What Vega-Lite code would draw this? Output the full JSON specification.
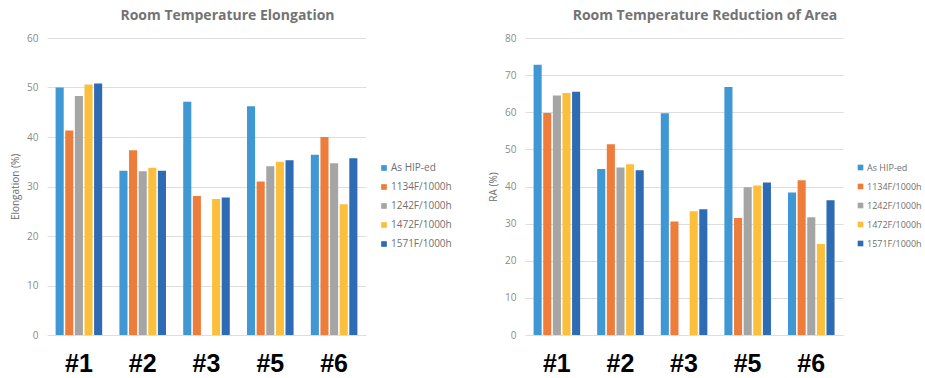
{
  "$schema": "https://vega.github.io/schema/vega-lite/v6.json",
  "padding": {"left": 10, "top": 9, "right": 0, "bottom": 0},
  "background": "white",
  "config": {
    "view": {"stroke": null},
    "font": "Open Sans",
    "title": {"fontSize": 14, "fontWeight": "bold", "color": "#737373", "offset": 10, "anchor": "middle", "dx": 21},
    "axisY": {
      "grid": true, "gridColor": "#dedede", "gridWidth": 1,
      "domain": false, "ticks": false,
      "labelColor": "#8a8a8a", "labelFontSize": 10, "labelPadding": 9,
      "titleColor": "#6b6b6b", "titleFontSize": 10, "titleFontWeight": "normal", "titlePadding": 6
    },
    "axisX": {
      "domain": false, "ticks": false, "grid": false,
      "labelAngle": 0, "labelFont": "Liberation Sans", "labelFontSize": 25, "labelFontWeight": "bold",
      "labelColor": "#000000", "labelPadding": 16, "title": null
    },
    "legend": {
      "orient": "none", "title": null, "symbolType": "square", "symbolSize": 32,
      "symbolStrokeWidth": 0, "labelFontSize": 10, "labelColor": "#707070",
      "rowPadding": 9, "labelOffset": 2
    }
  },
  "datasets": {
    "elong": [
      {"sample": "#1", "cond": "As HIP-ed", "value": 50.0},
      {"sample": "#1", "cond": "1134F/1000h", "value": 41.3},
      {"sample": "#1", "cond": "1242F/1000h", "value": 48.3},
      {"sample": "#1", "cond": "1472F/1000h", "value": 50.6},
      {"sample": "#1", "cond": "1571F/1000h", "value": 50.8},
      {"sample": "#2", "cond": "As HIP-ed", "value": 33.2},
      {"sample": "#2", "cond": "1134F/1000h", "value": 37.3},
      {"sample": "#2", "cond": "1242F/1000h", "value": 33.1},
      {"sample": "#2", "cond": "1472F/1000h", "value": 33.8},
      {"sample": "#2", "cond": "1571F/1000h", "value": 33.2},
      {"sample": "#3", "cond": "As HIP-ed", "value": 47.1},
      {"sample": "#3", "cond": "1134F/1000h", "value": 28.1},
      {"sample": "#3", "cond": "1472F/1000h", "value": 27.5},
      {"sample": "#3", "cond": "1571F/1000h", "value": 27.8},
      {"sample": "#5", "cond": "As HIP-ed", "value": 46.2},
      {"sample": "#5", "cond": "1134F/1000h", "value": 31.0},
      {"sample": "#5", "cond": "1242F/1000h", "value": 34.1},
      {"sample": "#5", "cond": "1472F/1000h", "value": 35.0},
      {"sample": "#5", "cond": "1571F/1000h", "value": 35.3},
      {"sample": "#6", "cond": "As HIP-ed", "value": 36.4},
      {"sample": "#6", "cond": "1134F/1000h", "value": 40.0},
      {"sample": "#6", "cond": "1242F/1000h", "value": 34.7},
      {"sample": "#6", "cond": "1472F/1000h", "value": 26.4},
      {"sample": "#6", "cond": "1571F/1000h", "value": 35.7}
    ],
    "ra": [
      {"sample": "#1", "cond": "As HIP-ed", "value": 72.8},
      {"sample": "#1", "cond": "1134F/1000h", "value": 59.8},
      {"sample": "#1", "cond": "1242F/1000h", "value": 64.5},
      {"sample": "#1", "cond": "1472F/1000h", "value": 65.2},
      {"sample": "#1", "cond": "1571F/1000h", "value": 65.5},
      {"sample": "#2", "cond": "As HIP-ed", "value": 44.7},
      {"sample": "#2", "cond": "1134F/1000h", "value": 51.4},
      {"sample": "#2", "cond": "1242F/1000h", "value": 45.1},
      {"sample": "#2", "cond": "1472F/1000h", "value": 46.0},
      {"sample": "#2", "cond": "1571F/1000h", "value": 44.4},
      {"sample": "#3", "cond": "As HIP-ed", "value": 59.7},
      {"sample": "#3", "cond": "1134F/1000h", "value": 30.6},
      {"sample": "#3", "cond": "1472F/1000h", "value": 33.3},
      {"sample": "#3", "cond": "1571F/1000h", "value": 33.9},
      {"sample": "#5", "cond": "As HIP-ed", "value": 66.8},
      {"sample": "#5", "cond": "1134F/1000h", "value": 31.5},
      {"sample": "#5", "cond": "1242F/1000h", "value": 39.8},
      {"sample": "#5", "cond": "1472F/1000h", "value": 40.3},
      {"sample": "#5", "cond": "1571F/1000h", "value": 41.1},
      {"sample": "#6", "cond": "As HIP-ed", "value": 38.4},
      {"sample": "#6", "cond": "1134F/1000h", "value": 41.7},
      {"sample": "#6", "cond": "1242F/1000h", "value": 31.7},
      {"sample": "#6", "cond": "1472F/1000h", "value": 24.5},
      {"sample": "#6", "cond": "1571F/1000h", "value": 36.3}
    ]
  },
  "resolve": {"scale": {"color": "independent", "y": "independent"}},
  "spacing": 36,
  "hconcat": [
    {
      "title": "Room Temperature Elongation",
      "data": {"name": "elong"},
      "width": 319,
      "height": 297,
      "mark": {"type": "bar"},
      "encoding": {
        "x": {"field": "sample", "type": "nominal", "sort": ["#1", "#2", "#3", "#5", "#6"],
              "scale": {"paddingInner": 0.27, "paddingOuter": 0.135}},
        "xOffset": {"field": "cond", "type": "nominal",
                    "sort": ["As HIP-ed", "1134F/1000h", "1242F/1000h", "1472F/1000h", "1571F/1000h"],
                    "scale": {"paddingInner": 0.16}},
        "y": {"field": "value", "type": "quantitative", "title": "Elongation (%)",
              "scale": {"domain": [0, 60]}, "axis": {"values": [0, 10, 20, 30, 40, 50, 60]}},
        "color": {"field": "cond", "type": "nominal",
                  "sort": ["As HIP-ed", "1134F/1000h", "1242F/1000h", "1472F/1000h", "1571F/1000h"],
                  "scale": {"domain": ["As HIP-ed", "1134F/1000h", "1242F/1000h", "1472F/1000h", "1571F/1000h"],
                            "range": ["#3f97d4", "#ee7c3a", "#a5a5a5", "#fbbf3c", "#2d6bb5"]},
                  "legend": {"legendX": 332, "legendY": 125}}
      }
    },
    {
      "title": "Room Temperature Reduction of Area",
      "data": {"name": "ra"},
      "width": 318,
      "height": 297,
      "mark": {"type": "bar"},
      "encoding": {
        "x": {"field": "sample", "type": "nominal", "sort": ["#1", "#2", "#3", "#5", "#6"],
              "scale": {"paddingInner": 0.27, "paddingOuter": 0.135}},
        "xOffset": {"field": "cond", "type": "nominal",
                    "sort": ["As HIP-ed", "1134F/1000h", "1242F/1000h", "1472F/1000h", "1571F/1000h"],
                    "scale": {"paddingInner": 0.16}},
        "y": {"field": "value", "type": "quantitative", "title": "RA (%)",
              "scale": {"domain": [0, 80]}, "axis": {"values": [0, 10, 20, 30, 40, 50, 60, 70, 80]}},
        "color": {"field": "cond", "type": "nominal",
                  "sort": ["As HIP-ed", "1134F/1000h", "1242F/1000h", "1472F/1000h", "1571F/1000h"],
                  "scale": {"domain": ["As HIP-ed", "1134F/1000h", "1242F/1000h", "1472F/1000h", "1571F/1000h"],
                            "range": ["#3f97d4", "#ee7c3a", "#a5a5a5", "#fbbf3c", "#2d6bb5"]},
                  "legend": {"legendX": 331, "legendY": 125, "labelFontSize": 9, "labelOffset": 2}}
      }
    }
  ]
}
